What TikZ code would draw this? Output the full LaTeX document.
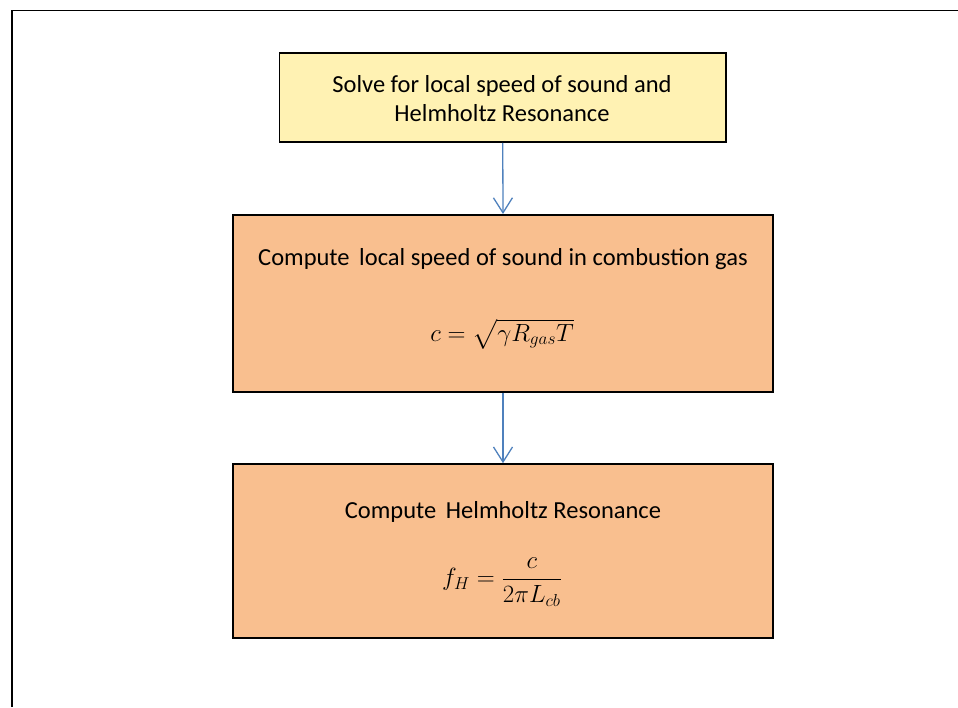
\documentclass[tikz,border=0pt]{standalone}
\usepackage{amsmath}
\usepackage{fontspec}
\setmainfont{Carlito}
\usetikzlibrary{arrows.meta}
\definecolor{stepyellow}{HTML}{FFF2B3}
\definecolor{steporange}{HTML}{F9BF8F}
\definecolor{flowblue}{HTML}{4F81BD}
\tikzset{
  stepbox/.style={draw=black, line width=1.6pt, inner sep=0pt},
  steptext/.style={anchor=base, inner sep=0pt, font=\fontsize{24.5}{29}\selectfont},
  stepmath/.style={inner sep=0pt, font=\fontsize{23.5}{28}\selectfont},
  flow/.style={draw=flowblue, line width=1.3pt, -{Straight Barb[length=15pt,width=19pt,line width=1.3pt]}},
}
\begin{document}
\begin{tikzpicture}[x=1pt, y=-1pt]
\useasboundingbox (0,0) rectangle (958,707);
% outer frame (top and left edges)
\draw[line width=1.8pt] (12,707) -- (12,10.5) -- (958,10.5);

% boxes
\node[stepbox, fill=stepyellow, minimum width=446.5pt, minimum height=89pt] (solve) at (502.75,97.5) {};
\node[stepbox, fill=steporange, minimum width=540pt, minimum height=177pt] (speed) at (503,303.3) {};
\node[stepbox, fill=steporange, minimum width=540pt, minimum height=174pt] (helm) at (503,551) {};

% texts
\node[steptext] (solveA) at (502,92) {Solve for local speed of sound and};
\node[steptext] (solveB) at (502,121) {Helmholtz Resonance};
\node[steptext] (speedT) at (503,265) {Compute\, local speed of sound in combustion gas};
\node[stepmath, anchor=base] (speedM) at (502,341) {$c=\sqrt{\gamma R_{gas}T}$};
\node[steptext] (helmT) at (503,518) {Compute\, Helmholtz Resonance};
\node[stepmath] (helmM) at (502,582) {$f_H=\dfrac{c}{2\pi L_{cb}}$};

% connectors
\draw[flow] (solve.south) -- (speed.north);
\draw[flow] (speed.south) -- (helm.north);
\end{tikzpicture}
\end{document}
